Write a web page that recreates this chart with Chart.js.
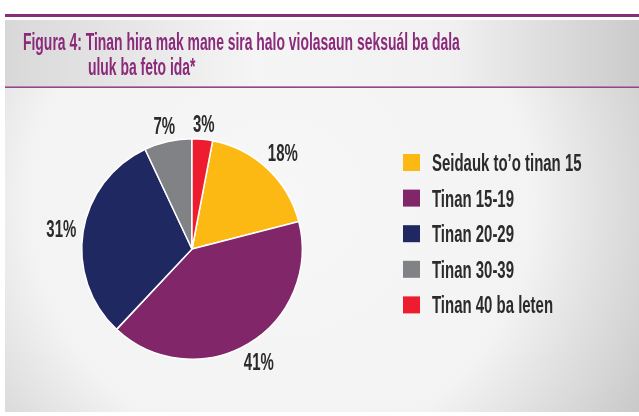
<!DOCTYPE html>
<html><head><meta charset="utf-8">
<script src="https://cdn.jsdelivr.net/npm/chart.js@4.4.0/dist/chart.umd.min.js"></script>
<style>html,body{margin:0;padding:0;background:#fff}#wrap{width:639px;height:416px;position:relative}</style>
</head><body><div id="wrap"><canvas id="c" width="639" height="416"></canvas></div>
<script>
const titleLines = ['Figura 4: Tinan hira mak mane sira halo violasaun seksuál ba dala', 'uluk ba feto ida*'];
const categories = ['Seidauk to’o tinan 15', 'Tinan 15-19', 'Tinan 20-29', 'Tinan 30-39', 'Tinan 40 ba leten'];
const shares = [18, 41, 31, 7, 3];
const sliceColors = ['#FDB913', '#82266A', '#1F2860', '#808285', '#ED1C2E'];

const FONT = '"Liberation Sans", Arial, sans-serif';
const SX = 0.65;

function condText(ctx, text, x, y, font, color, sx, align) {
  ctx.save();
  ctx.font = font;
  ctx.fillStyle = color;
  ctx.textBaseline = 'alphabetic';
  ctx.textAlign = 'left';
  const w = ctx.measureText(text).width * sx;
  const x0 = align === 'center' ? x - w / 2 : x;
  ctx.translate(x0, y);
  ctx.scale(sx, 1);
  ctx.fillText(text, 0, 0);
  ctx.restore();
  return w;
}

const decor = {
  id: 'decor',
  beforeDraw(chart) {
    const ctx = chart.ctx;
    ctx.save();
    ctx.fillStyle = '#ffffff';
    ctx.fillRect(0, 0, 639, 416);
    // top purple rule
    ctx.fillStyle = '#8a2c7c';
    ctx.fillRect(5, 14, 634, 3);
    // title panel
    let g = ctx.createLinearGradient(5, 0, 639, 0);
    g.addColorStop(0, '#d8d8d8');
    g.addColorStop(0.4, '#f5f5f5');
    g.addColorStop(0.7, '#f1f1f1');
    g.addColorStop(1, '#cbcbcb');
    ctx.fillStyle = g;
    ctx.fillRect(5, 20, 634, 66);
    ctx.fillStyle = '#b883ad';
    ctx.fillRect(5, 86, 634, 1);
    ctx.fillStyle = '#94468a';
    ctx.fillRect(5, 87, 634, 1);
    // main panel
    g = ctx.createRadialGradient(280, 200, 0, 280, 200, 420);
    g.addColorStop(0, '#f7f7f7');
    g.addColorStop(0.6, '#f3f3f3');
    g.addColorStop(1, '#c8c8c8');
    ctx.fillStyle = g;
    ctx.fillRect(5, 88, 634, 324);
    ctx.restore();
    // title
    const tf = 'bold 24px ' + FONT;
    condText(ctx, titleLines[0], 23, 50, tf, '#8b2a7b', 0.58, 'left');
    condText(ctx, titleLines[1], 88, 75, tf, '#8b2a7b', 0.58, 'left');
  },
  afterDatasetsDraw(chart) {
    const ctx = chart.ctx;
    const lf = 'bold 23px ' + FONT;
    const meta = chart.getDatasetMeta(0);
    meta.data.forEach((arc, i) => {
      const p = arc.getProps(['x', 'y', 'startAngle', 'endAngle', 'outerRadius'], true);
      const mid = (p.startAngle + p.endAngle) / 2;
      const txt = chart.data.datasets[0].data[i] + '%';
      ctx.font = lf;
      const hw = ctx.measureText(txt).width * SX / 2;
      const hh = 8.5;
      const off = 6 + Math.abs(Math.cos(mid)) * hw + Math.abs(Math.sin(mid)) * hh;
      const cx = p.x + Math.cos(mid) * (p.outerRadius + off);
      const cy = p.y + Math.sin(mid) * (p.outerRadius + off);
      condText(ctx, txt, cx, cy + hh, lf, '#2b2b2b', SX, 'center');
    });
    // legend
    chart.data.labels.forEach((lab, i) => {
      const cy = 162.5 + i * 35.6;
      ctx.fillStyle = chart.data.datasets[0].backgroundColor[i];
      ctx.fillRect(403, cy - 8.5, 17, 17);
      condText(ctx, lab, 432, cy + 8.5, lf, '#2b2b2b', SX, 'left');
    });
  }
};

new Chart(document.getElementById('c'), {
  type: 'pie',
  data: {
    labels: categories,
    datasets: [{
      data: shares,
      backgroundColor: sliceColors,
      borderColor: '#ffffff',
      borderWidth: 1.5
    }]
  },
  options: {
    responsive: false,
    animation: false,
    rotation: 10.8,
    layout: { padding: { left: 81, right: 336, top: 138, bottom: 56 } },
    plugins: { legend: { display: false }, tooltip: { enabled: false }, title: { display: false } }
  },
  plugins: [decor]
});
</script>
</body></html>
